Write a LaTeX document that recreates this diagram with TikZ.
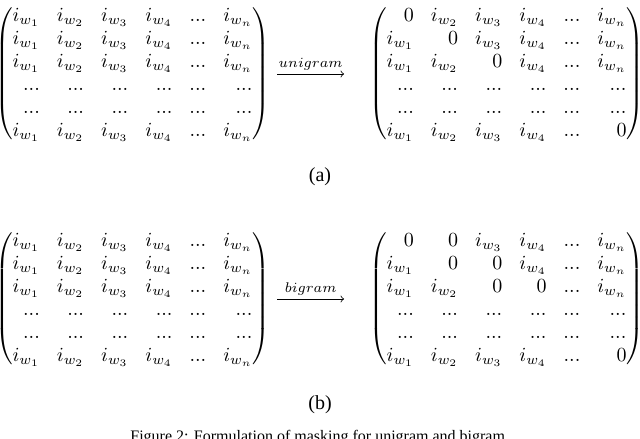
\documentclass[tikz,border=0pt]{standalone}
\usepackage{amssymb, amsmath, mathtools}
\usepackage[no-math]{fontspec}
\setmainfont{Liberation Serif}
\usepackage{tikz}
\usetikzlibrary{arrows, calc}
\setlength{\arraycolsep}{4.25pt}
\renewcommand{\arraystretch}{0.96}

\begin{document}
\begin{tikzpicture}[x=1pt,y=1pt]
      \tikzset{mat/.style={inner sep=0pt, outer sep=0pt},
          maparrow/.style={->, shorten <=3.5pt, shorten >=12.5pt},
          maplabel/.style={above, inner sep=1.5pt, pos=0.41}
      }
      \clip (0,0) rectangle (320,-219);
      \useasboundingbox (0,0) rectangle (320,-219);

      % (a) unigram
      \node [mat] (uniA) at (66.3,-37) {$\begin{pmatrix*}[r]
          i_{w_1} & i_{w_2} & i_{w_3} & i_{w_4} & ... & i_{w_n}\\
          i_{w_1} & i_{w_2} & i_{w_3} & i_{w_4} & ... & i_{w_n}\\
          i_{w_1} & i_{w_2} & i_{w_3} & i_{w_4} & ... & i_{w_n}\\
          ... & ... & ... & ... & ... & ...\\
          ... & ... & ... & ... & ... & ...\\
          i_{w_1} & i_{w_2} & i_{w_3} & i_{w_4} & ... & i_{w_n}
        \end{pmatrix*}$};
      \node [mat] (uniB) at (253.3,-37) {$\begin{pmatrix*}[r]
          0 & i_{w_2} & i_{w_3} & i_{w_4} & ... & i_{w_n}\\
          i_{w_1} & 0 & i_{w_3} & i_{w_4} & ... & i_{w_n}\\
          i_{w_1} & i_{w_2} & 0 & i_{w_4} & ... & i_{w_n}\\
          ... & ... & ... & ... & ... & ...\\
          ... & ... & ... & ... & ... & ...\\
          i_{w_1} & i_{w_2} & i_{w_3} & i_{w_4} & ... & 0
        \end{pmatrix*}$};
      \draw [maparrow] (uniA.east) -- (uniB.west) node [maplabel] {$\scriptstyle unigram$};
      \node (capA) at (160,-88.5) {(a)};

      % (b) bigram
      \node [mat] (biA) at (66.3,-149.5) {$\begin{pmatrix*}[r]
          i_{w_1} & i_{w_2} & i_{w_3} & i_{w_4} & ... & i_{w_n}\\
          i_{w_1} & i_{w_2} & i_{w_3} & i_{w_4} & ... & i_{w_n}\\
          i_{w_1} & i_{w_2} & i_{w_3} & i_{w_4} & ... & i_{w_n}\\
          ... & ... & ... & ... & ... & ...\\
          ... & ... & ... & ... & ... & ...\\
          i_{w_1} & i_{w_2} & i_{w_3} & i_{w_4} & ... & i_{w_n}
        \end{pmatrix*}$};
      \node [mat] (biB) at (253.3,-149.5) {$\begin{pmatrix*}[r]
          0 & 0 & i_{w_3} & i_{w_4} & ... & i_{w_n}\\
          i_{w_1} & 0 & 0 & i_{w_4} & ... & i_{w_n}\\
          i_{w_1} & i_{w_2} & 0 & 0 & ... & i_{w_n}\\
          ... & ... & ... & ... & ... & ...\\
          ... & ... & ... & ... & ... & ...\\
          i_{w_1} & i_{w_2} & i_{w_3} & i_{w_4} & ... & 0
        \end{pmatrix*}$};
      \draw [maparrow] (biA.east) -- (biB.west) node [maplabel] {$\scriptstyle bigram$};
      \node (capB) at (160,-202.5) {(b)};

      \node [anchor=base west, inner sep=0pt, font=\fontsize{8}{9}\selectfont] (caption) at (65,-220.5) {Figure 2: Formulation of masking for unigram and bigram};
    \end{tikzpicture}
\end{document}
